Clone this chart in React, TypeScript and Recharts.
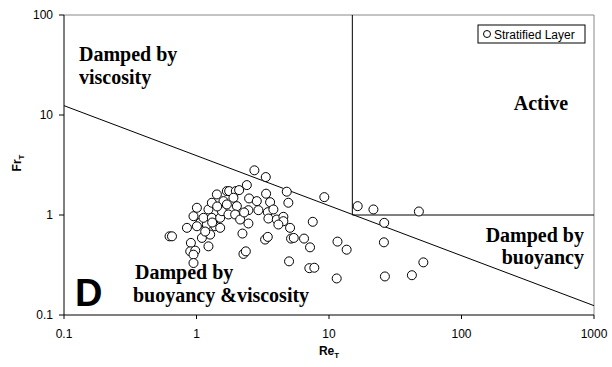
import React from 'react'
import {
  ScatterChart,
  Scatter,
  XAxis,
  YAxis,
  ReferenceLine
} from 'recharts'

// Re_T / Fr_T, one entry per circle
const reT = [
  0.626, 0.653, 0.847, 0.907, 0.897, 0.978, 0.949, 0.949, 0.949, 1.007,
  1.066, 1.007, 1.098, 1.231, 1.268, 1.198, 1.129, 1.231, 1.306, 1.306,
  1.425, 1.383, 1.509, 1.509, 1.554, 1.598, 1.695, 2.735, 3.334, 2.398,
  4.799, 4.934, 1.764, 1.981, 2.098, 1.9, 2.495, 2.852, 3.351, 3.593,
  1.695, 2.016, 2.465, 2.933, 3.452, 3.804, 1.742, 1.957, 2.135, 3.488,
  4.036, 4.525, 4.525, 4.149, 2.465, 5.082, 2.222, 3.294, 3.452, 5.171,
  5.42, 6.481, 2.261, 2.357, 4.995, 7.54, 7.193, 9.218, 7.106, 7.748,
  11.43, 11.59, 13.59, 16.46, 21.64, 47.68, 26.11, 25.97, 26.42, 42.23,
  51.54, 1.163, 1.432, 2.288, 1.313
]
const frT = [
  0.612, 0.612, 0.744, 0.526, 0.433, 0.44, 0.401, 0.331, 0.973, 1.181,
  0.835, 0.772, 0.59, 0.486, 0.637, 0.803, 0.937, 1.136, 1.326, 0.937,
  1.606, 0.772, 0.937, 0.744, 1.092, 1.376, 1.734, 2.798, 2.396, 1.991,
  1.71, 1.326, 1.734, 1.734, 1.774, 1.488, 1.464, 1.376, 1.633, 1.344,
  1.275, 1.226, 1.117, 1.117, 1.067, 1.136, 1.012, 1.012, 0.901, 0.922,
  0.901, 0.959, 0.867, 0.803, 0.822, 0.744, 0.652, 0.568, 0.604, 0.581,
  0.59, 0.581, 0.408, 0.433, 0.344, 0.855, 0.475, 1.509, 0.294, 0.297,
  0.232, 0.542, 0.45, 1.226, 1.136, 1.084, 0.835, 0.533, 0.243, 0.25,
  0.336, 0.683, 1.217, 1.06, 0.841
]

const xTicks = [0.1, 1, 10, 100, 1000]
const yTicks = [0.1, 1, 10, 100]

// regime boundaries
const criticalRe = 15
const viscousLine = [
  { x: 0.1, y: 12.4 },
  { x: 1000, y: 0.124 }
]

const data = reT.map((re, i) => ({ re, fr: frT[i] }))

const SANS = "'Liberation Sans', Arial, sans-serif"
const SERIF = "'Liberation Serif', 'Times New Roman', serif"

const tickStyle = { fontSize: 12, fill: '#000', fontFamily: SANS }
const regionFont = { fontSize: 20, fontWeight: 'bold' as const, fontFamily: SERIF, fill: '#000' }

const OpenCircle = (props: any) => {
  const { cx, cy } = props
  if (cx == null || cy == null) return null
  return <circle cx={cx} cy={cy} r={4.5} fill="#fff" stroke="#000" strokeWidth={1} />
}

const XLabel = (props: any) => {
  const vb = props.viewBox || {}
  return (
    <text
      x={vb.x + vb.width / 2}
      y={vb.y + 40}
      textAnchor="middle"
      style={{ fontSize: 12, fontWeight: 'bold', fontFamily: SANS }}
    >
      Re<tspan fontSize={8} dy={3}>T</tspan>
    </text>
  )
}

const YLabel = (props: any) => {
  const vb = props.viewBox || {}
  const x = vb.x + 21
  const y = vb.y + vb.height / 2 - 2
  return (
    <text
      x={x}
      y={y}
      textAnchor="middle"
      transform={`rotate(-90 ${x} ${y})`}
      style={{ fontSize: 12, fontWeight: 'bold', fontFamily: SANS }}
    >
      Fr<tspan fontSize={8} dy={3}>T</tspan>
    </text>
  )
}

export default function App() {
  return (
    <div style={{ position: 'absolute', left: 0, top: 0, background: '#fff' }}>
      <ScatterChart width={612} height={367} margin={{ top: 15, right: 18, bottom: 0, left: 0 }}>
        <XAxis
          type="number"
          dataKey="re"
          scale="log"
          domain={[0.1, 1000]}
          ticks={xTicks}
          allowDataOverflow
          tickFormatter={(v) => String(v)}
          height={52}
          tickSize={4}
          tickMargin={10}
          stroke="#000"
          tick={tickStyle}
          label={<XLabel />}
        />
        <YAxis
          type="number"
          dataKey="fr"
          scale="log"
          domain={[0.1, 100]}
          ticks={yTicks}
          allowDataOverflow
          tickFormatter={(v) => String(v)}
          width={64}
          tickSize={5}
          tickMargin={6}
          stroke="#000"
          tick={tickStyle}
          label={<YLabel />}
        />
        <ReferenceLine y={100} stroke="#888" />
        <ReferenceLine x={1000} stroke="#888" />
        <ReferenceLine segment={viscousLine} stroke="#000" strokeWidth={1} />
        <ReferenceLine
          segment={[{ x: criticalRe, y: 1.02 }, { x: criticalRe, y: 100 }]}
          stroke="#000"
          strokeWidth={1}
        />
        <ReferenceLine
          segment={[{ x: criticalRe, y: 1 }, { x: 1000, y: 1 }]}
          stroke="#000"
          strokeWidth={1}
        />
        <Scatter data={data} shape={<OpenCircle />} isAnimationActive={false} />

        <text x={79} y={61} style={regionFont}>Damped by</text>
        <text x={79} y={83.5} style={regionFont}>viscosity</text>
        <text x={541} y={110} textAnchor="middle" style={regionFont}>Active</text>
        <text x={584} y={242} textAnchor="end" style={regionFont}>Damped by</text>
        <text x={584} y={264} textAnchor="end" style={regionFont}>buoyancy</text>
        <text x={135} y={279} style={regionFont}>Damped by</text>
        <text x={133} y={301.5} style={regionFont}>buoyancy &amp;viscosity</text>
        <text x={75} y={306} style={{ fontSize: 38, fontWeight: 'bold', fontFamily: SANS }}>
          D
        </text>

        <g>
          <rect x={478} y={25} width={107} height={18} fill="#fff" stroke="#000" strokeWidth={1} />
          <circle cx={487} cy={34} r={3.5} fill="#fff" stroke="#000" />
          <text x={494} y={38.5} style={{ fontSize: 12, fontFamily: SANS }}>
            Stratified Layer
          </text>
        </g>
      </ScatterChart>
    </div>
  )
}
